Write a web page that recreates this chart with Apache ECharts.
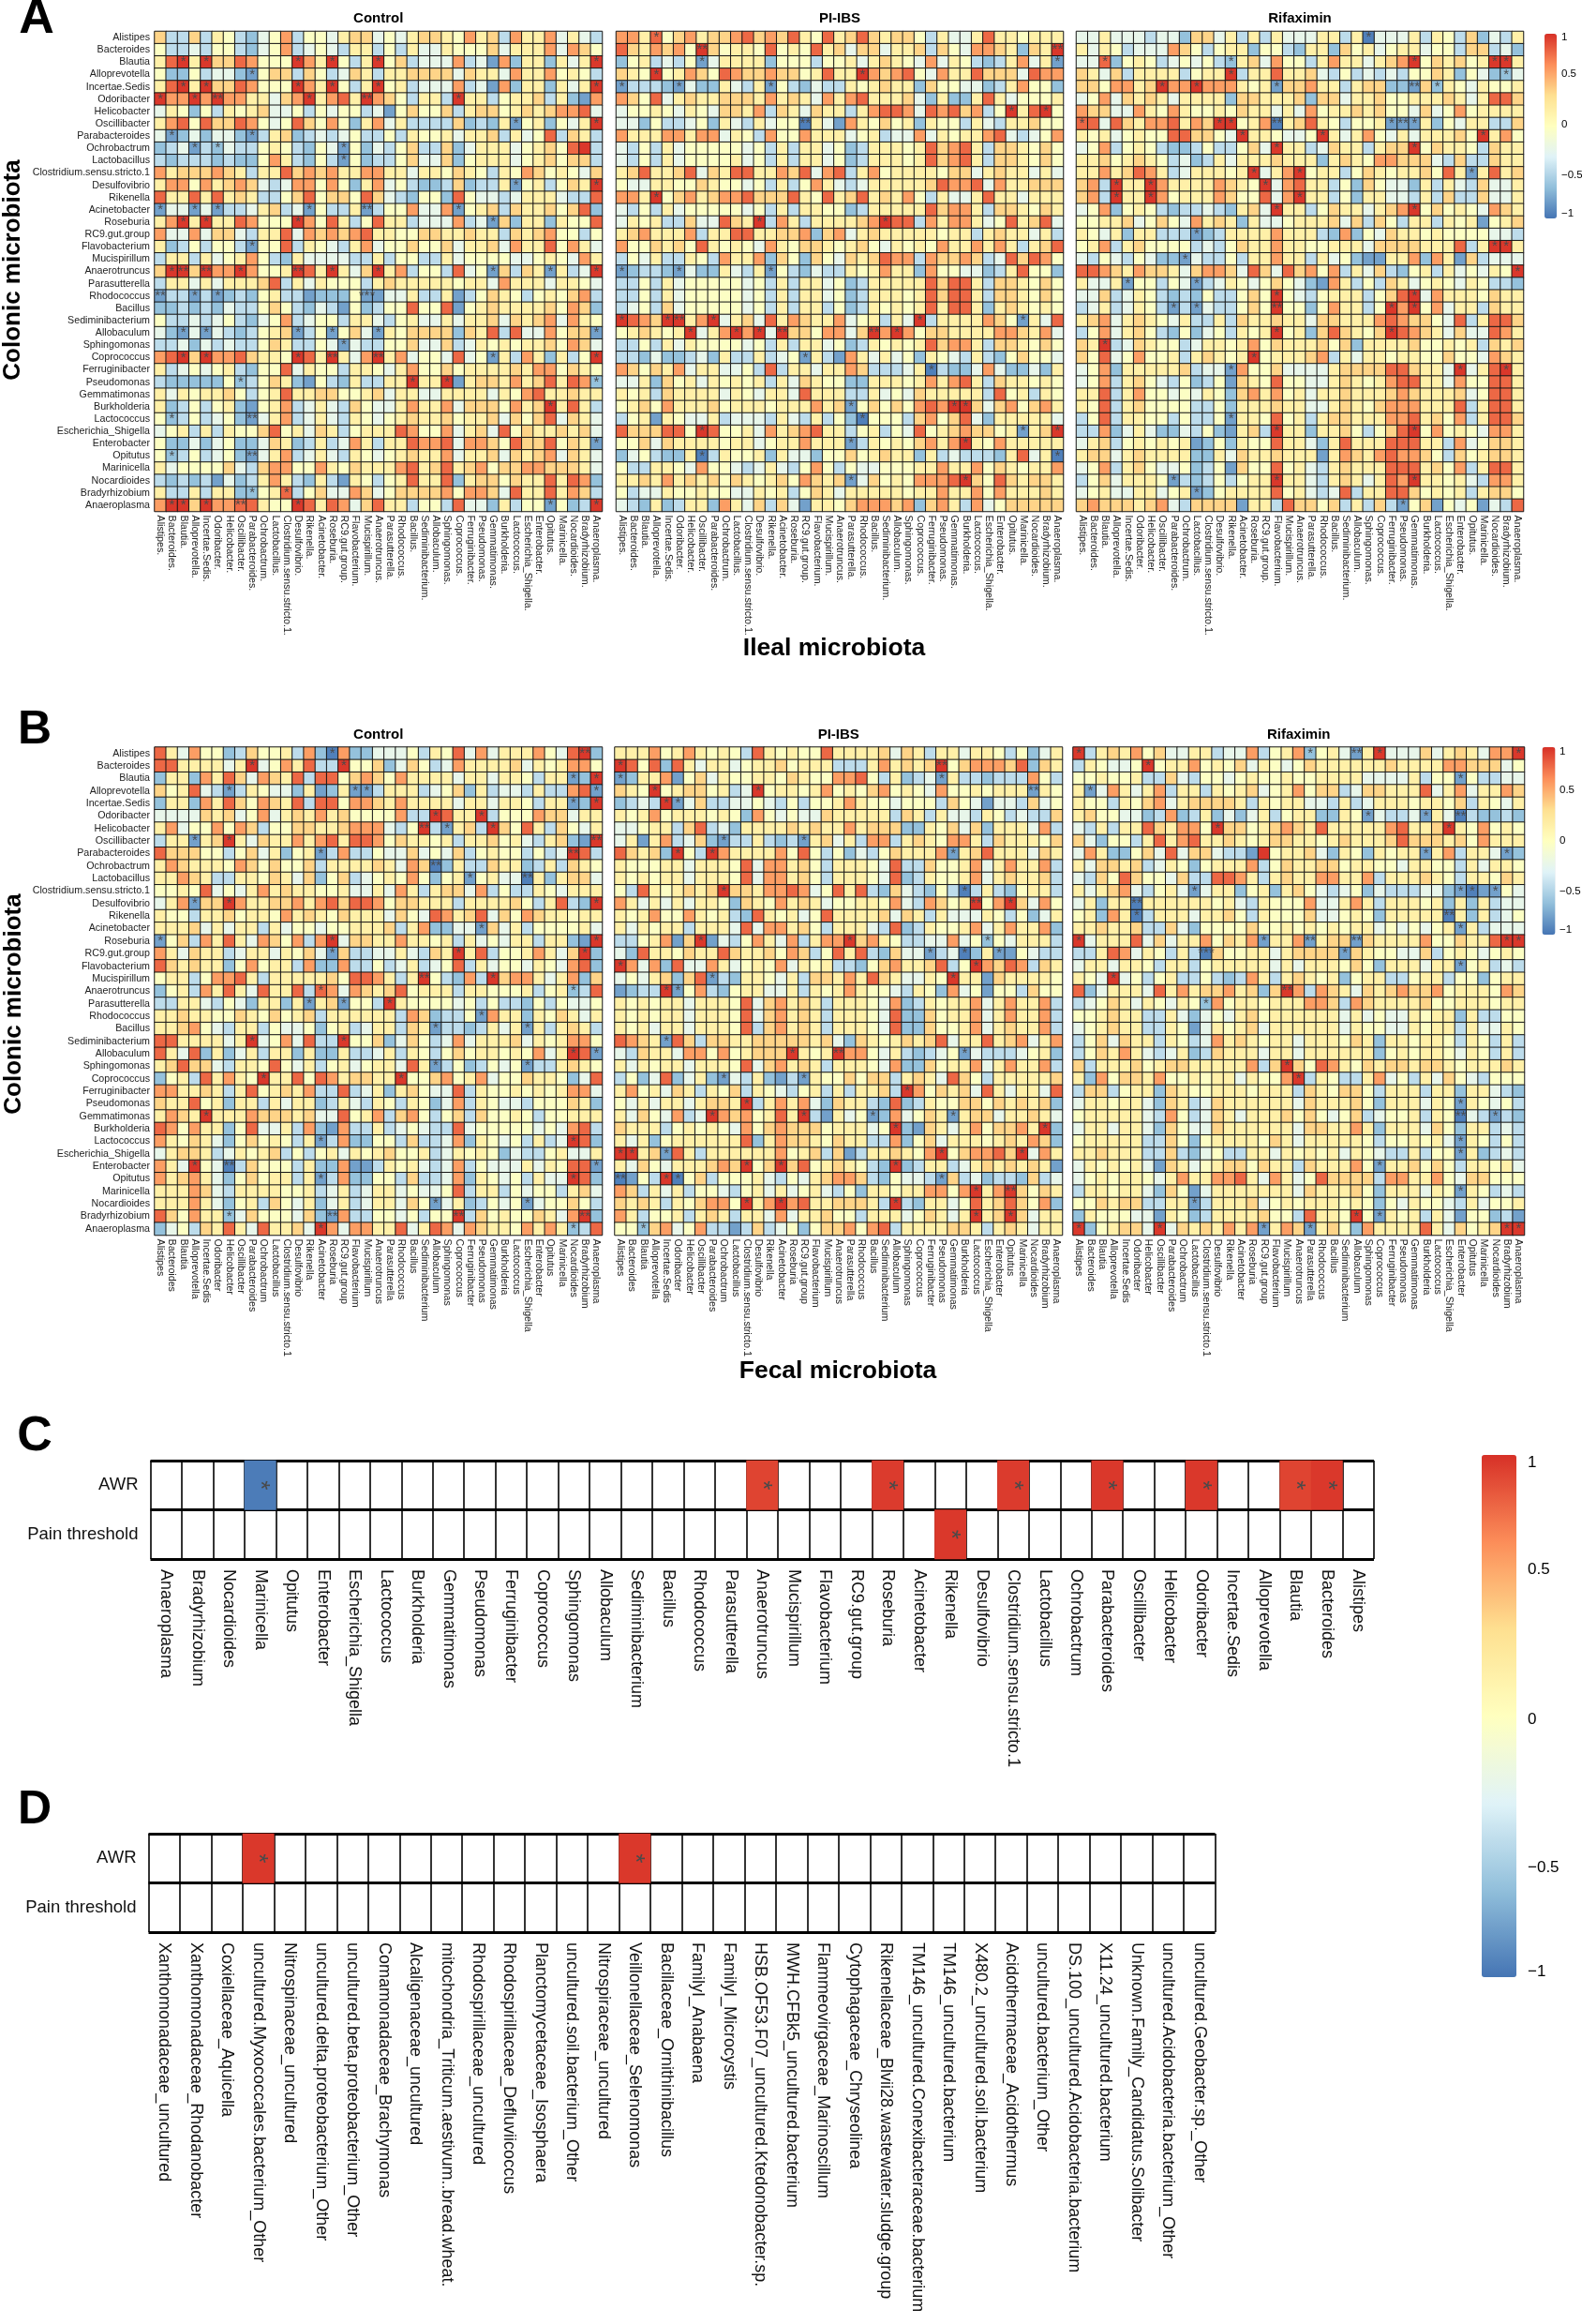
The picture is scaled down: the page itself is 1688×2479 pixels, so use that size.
<!DOCTYPE html>
<html><head><meta charset="utf-8">
<script src="https://cdn.jsdelivr.net/npm/echarts@6/dist/echarts.min.js"></script>
<style>html,body{margin:0;padding:0;background:#fff}#c{width:1688px;height:2479px}</style></head>
<body><div id="c"></div>
<script>
const taxa=["Alistipes","Bacteroides","Blautia","Alloprevotella","Incertae.Sedis","Odoribacter","Helicobacter","Oscillibacter","Parabacteroides","Ochrobactrum","Lactobacillus","Clostridium.sensu.stricto.1","Desulfovibrio","Rikenella","Acinetobacter","Roseburia","RC9.gut.group","Flavobacterium","Mucispirillum","Anaerotruncus","Parasutterella","Rhodococcus","Bacillus","Sediminibacterium","Allobaculum","Sphingomonas","Coprococcus","Ferruginibacter","Pseudomonas","Gemmatimonas","Burkholderia","Lactococcus","Escherichia_Shigella","Enterobacter","Opitutus","Marinicella","Nocardioides","Bradyrhizobium","Anaeroplasma"];
const levelValues={'0':-0.95,'1':-0.8,'2':-0.65,'3':-0.48,'4':-0.25,'5':-0.03,'6':0.16,'7':0.38,'8':0.6,'9':0.8,'X':0.97};
const ilealControl=[
"7337365324 5835546774 5467765867 386684643",
"5334355324 5834543663 5364465557 466684875",
"69X6X77985 55X86X536X 5734448341 82662646X",
"5225344215 7737534763 6677774766 486685653",
"69X6X77985 55X86X536X 5634448341 82662646X",
"X88X8X8866 478X6896X8 753663X663 566736218",
"4652536567 4453545534 1575573677 567678894",
"6895977985 4597585268 4633337232 61562546X",
"4124244213 6723434533 5365564667 364593763",
"2341324335 6532541524 3573372466 6456759X3",
"3233323225 8632531523 3574472566 645675773",
"8677787636 6978786688 6646657653 658756547",
"6885867874 3488585268 4532237233 61563576X",
"9669696763 3579577597 4325529544 346664339",
"1441413346 7341533613 5584481567 376675792",
"68X6X66985 55X8596359 6634448341 726626559",
"8448477436 6948787896 6557766766 376785535",
"6235355315 5936543684 5575574667 486695864",
"3663645685 3264444336 3553364555 544565486",
"7XX7X88X85 56X96X647X 6835539451 73761634X",
"3664646667 9364655536 7666665664 866646654",
"1331312325 6331222511 4463361357 653565783",
"2232324335 7532431523 5595591567 666675872",
"5334345324 5834553664 3564464667 476784865",
"4214143235 6713515741 6577772769 394485771",
"3342434335 7633541433 5574473465 656675874",
"89X7X88976 65X96X648X 6845549451 63862635X",
"6345456325 5946553665 4685575666 676885765",
"3222225235 7621532633 66X66X1677 686796982",
"6465667535 6966775567 4664466664 658966766",
"6235356215 6834643754 4686684777 5867X6963",
"5235345214 6834643654 5676675667 475794764",
"4563636557 9564763566 6985584674 957667674",
"5224245224 7623634863 6698894887 597795761",
"5235345214 6834643654 5676684667 476784764",
"6455557437 8855865766 6896796785 778877764",
"3232314236 8632631653 5696692677 576696982",
"6336366225 6935744874 5777785887 496696873",
"8XX7X88996 55X9698479 6635539442 63551523X"];
const ilealPIIBS=[
"8869578677 8978796596 7976775364 469665666",
"9768785X75 6659565967 4774667375 48876276X",
"2563435146 6662555355 6467654846 532368461",
"765X568759 8778775696 6X87895486 697774988",
"1333214226 4361532433 6567662755 442368552",
"8759467667 7768676486 8966674262 269645556",
"4556546547 7683764766 3689984989 7835X69X5",
"4425334526 4364550641 8657562655 364366755",
"8666886884 6538558666 4563448465 668943458",
"4353645555 5453636645 2366656978 963776575",
"4353645555 6453636645 2366656978 963776575",
"6796679476 9966879489 3685666657 746766464",
"5446655765 5453635864 3466666798 894866777",
"886X578678 8977796596 7967685364 469664666",
"4353645555 5453636655 2366666978 863776576",
"4656337449 76X3863666 678X993868 864596794",
"6786668366 9966778278 4676666656 636766463",
"8557675965 6548657765 6754656586 686863679",
"3546336538 6682752754 7679883877 873497985",
"1233214226 4361532433 6568662855 442369552",
"3353645555 5453636645 2366666979 963776575",
"3353645555 5453636645 2366656979 963776575",
"3453745555 5453636635 2365656969 962676565",
"X987XX68X4 6749687668 456364X366 668751649",
"567656X468 X8X4X77588 47X8X85776 666887684",
"3353646555 5453636645 2365656978 863776575",
"3324223426 3363451631 8646452654 363257554",
"8757684664 4539366466 8733346032 248422426",
"4462756465 6563647655 2266656868 963766565",
"6563766664 6546649666 3364547666 663956365",
"5675866675 6665666867 157575898X X74785786",
"3561654463 4443643635 2055537857 942666664",
"9777995X95 5648678966 3563549567 87756167X",
"5574766665 6645668666 1365657868 X65866666",
"2453226036 5562644255 7567662634 333269460",
"5336654855 4346435853 5445556686 685765668",
"6676867675 7656758767 1475658889 X75976776",
"5344655655 4465635764 6666656686 685866676",
"4326236628 6473741665 7888782786 384577777"];
const ilealRifaximin=[
"4464443442 7746363644 4663604446 365372436",
"6465344487 5356625532 6627564566 455377342",
"4492565345 4532674855 368664678X 576756XX6",
"7647366663 566X366966 7435343435 576254224",
"7758867X88 X888656177 8663677221 726546556",
"4584767646 6662776667 2774667556 667646997",
"8774486586 5565766464 8566767554 745856666",
"9949768896 87XX568067 9653556111 625466337",
"6564565599 7754X66544 5X64685464 66675X685",
"4583565322 3533574X66 347663677X 576653766",
"6675676534 2364666766 6267658877 743733766",
"6686798634 66656X468X 5663576566 759616967",
"783X66X866 668765X489 6635275442 636437446",
"783X66X856 668755948X 6635266443 637337446",
"4582565323 3432674X66 357664678X 575654876",
"5566745754 8676264456 6674737536 636561567",
"6546266333 1236666866 6328254766 565555443",
"5683675555 3435766866 5566647777 666936XX6",
"4354354221 4335366866 3645211668 286173444",
"9987687764 7887497497 8583647325 63645465X",
"6446155354 1346545754 2186353764 565465332",
"4473465323 2533575X54 356663579X 486665766",
"3463465313 1433575X55 2586635X8X 584663766",
"6784676546 3363766766 4776668987 754936997",
"3584675325 2453656X56 2797657X98 764744986",
"76X3476553 4665685766 6757266667 556563767",
"7594585563 67656X5666 7836466566 557554876",
"4582666667 3441855744 4467777997 664X469X6",
"4583675435 2351765955 4467656899 664855996",
"6693685545 4652786856 4667666787 666745996",
"6593675555 3352666766 4467657888 666936996",
"3593665535 3351665956 3677666889 675836997",
"3382464224 3521673X66 266753579X 585654886",
"4673565656 1252655966 4269666999 663845776",
"6774676666 2264766766 6168768988 753756776",
"4583675445 2351755956 4367666999 675836996",
"3574666513 2353566X66 436764698X 665643886",
"4564466456 1256666956 4349366997 565636775",
"7877767843 7777166397 7573637315 715451439"];
const fecalControl=[
"9648552375 5638208224 4453659484 6668549X2",
"99666646X4 586933X557 2475348666 674656885",
"2662869748 7693995787 5866664664 66536612X",
"7569431365 4426126113 6663457263 443633891",
"2662869758 7693995887 6866664664 66536612X",
"4444767458 4676867555 5833X966X3 555877466",
"6845585873 5577667888 435X31673X 759637546",
"366167X647 6686896998 5766563667 56436721X",
"9777553574 6256138335 4474547356 553534X93",
"6876665875 7557366667 6487026337 662363765",
"6687633665 7647257345 6585256156 440626774",
"5565945468 6766556446 4863677483 533654666",
"468177X866 7786897998 5776663666 67536932X",
"6553667566 5867657666 4754986794 758766566",
"6667464663 6455455666 7368224417 463555564",
"1573869648 75838X4776 6866563645 46636621X",
"8647663466 4657417334 464376X693 5568647X2",
"9767662585 6638228335 3463459364 554654892",
"5663588963 6666675998 636X53283X 788646827",
"2563869649 6693984876 7956663665 556356239",
"3366435426 6261671553 X655554535 332535445",
"6676655765 7567366666 6387233518 662657646",
"6678543663 5445256346 6376133236 461636763",
"99666646X4 584933X557 2475348466 674656885",
"9649262463 6626226334 6365357566 565846X91",
"6797743665 9546356456 6496135235 451336765",
"256396865X 6695986776 6X55785684 557665249",
"8866763695 6768339346 2675449365 565656884",
"7669562663 6466236436 5365248365 443555762",
"6876X66687 7767449568 3785357375 565355666",
"9858662594 4638218336 3454339455 555454893",
"8657642575 6536138225 5373348265 453634X92",
"4677634656 7353564656 7556346565 243356446",
"864X540375 5536228113 6564348354 446465991",
"8678642575 6636138225 5373348265 453644X92",
"6668743666 6556346346 6454459366 354553674",
"6668642563 7546246346 6475146235 451455753",
"9758662475 5547218335 545355X375 6557648X2",
"2453769649 6674X84886 6946984876 658686239"];
const fecalPIIBS=[
"6668568656 5396565596 6667476366 466535246",
"X959296466 4566756663 33686767X5 788879276",
"1266815746 5566576558 8953623416 332333853",
"765X567756 34X5665685 6578565485 565666165",
"2343X14733 4454353556 8655455537 541443745",
"6568566656 5285454476 6666376364 436534337",
"4456637934 2666676766 8677722657 472666483",
"4616834721 3363231674 6388367658 863766657",
"97672X53X8 6666859535 2435766681 679666476",
"6555664666 5948867536 6654933755 684686683",
"6565664666 5948867536 6654923655 684676673",
"539656767X 7768898459 6932743253 036325663",
"8646464665 2765867645 5665843875 6X58X7485",
"6568558656 3296564596 6667476364 446535246",
"6465663666 4948867536 6643923655 684686682",
"3356817X14 3586483688 X786533448 452546663",
"4296657669 7667587359 6932744134 026115433",
"X848294486 4565846563 3257866793 5X8798376",
"4546727913 2665463776 869764465X 661766665",
"1233X15832 5664463656 8655436528 451553755",
"6565664666 5947867636 6654823656 684686683",
"6565664666 5947867636 6654922756 684686683",
"6564664666 5937867636 6654922755 684676683",
"9876197377 6677777674 2765676794 669678468",
"4376648858 56777X656X 8854632345 143334562",
"6465664666 5947867636 6654822756 684686683",
"3524924621 4362131655 7577367649 753666667",
"6856476365 7365435636 36673X8576 749646649",
"5464664677 6X36868427 6632923655 775767672",
"64754834X8 785696X316 4512845761 677466764",
"7666356565 4857877756 6645X21764 6857786X2",
"6462566666 6926877657 6633825746 665676872",
"XX67196366 6666856737 13667658X5 78897X486",
"6475466678 7X57X79567 6532X23663 467676761",
"0153X05735 5564354678 8732544317 342332734",
"8736463554 3564645643 5266566885 8X68X7576",
"7676365788 5X68X89667 7763X32664 596797582",
"8635563676 3664846675 5366645764 6X67X7466",
"5527845833 1373452577 8589366667 763676466"];
const fecalRifaximin=[
"X367685744 6634483568 256416X444 74676488X",
"365445X566 8565746545 7666666766 668877745",
"5565563374 3554565565 5666644446 355153344",
"6148646836 6365674568 5773477666 946846687",
"6553657846 7777636566 4436346665 665736546",
"6755442382 3624246356 6226514334 164032232",
"4363669768 85X7756787 6966666896 67X658565",
"7425536968 9667656776 6567666797 776758666",
"4862257494 774331X566 7426526566 168366412",
"6477673465 2566683576 6775665546 655364665",
"4375975547 3399863676 6886683666 765366576",
"6467843564 1466256267 5434524333 442101154",
"4626606666 6656436555 8446863666 562626344",
"5628603666 4667536555 7445652666 660626345",
"6676673374 2555575565 6565664545 456163444",
"X466694746 6857681668 1677176666 8557669XX",
"3369846536 3075566467 7771765544 735654565",
"4664665366 3566666464 6665752666 466156343",
"654X453563 3532386367 6562566335 663552566",
"9246664968 67786727X8 3876476787 785666587",
"3457646546 5285665666 8873876666 755666566",
"5567663364 2454675666 6664645446 566263355",
"4567663365 1465674666 6664655446 566364465",
"3574766365 3486765664 6665762665 665365363",
"3576864346 2376664664 6666662565 665465363",
"7366675677 66666837X7 5986576776 776566676",
"6285776855 656646558X 3653368453 647543555",
"3773566276 5566656663 7657753666 366266432",
"4665664276 3476666664 7666752666 465165453",
"5666664385 3476466675 7545734556 365043132",
"4664664275 4476666664 7766862666 475266343",
"5666663375 2566665764 6666653556 564165353",
"6676663373 2453366465 6564654336 355162343",
"4656564176 4567757663 7666851667 575366564",
"4565665468 6688964864 5977773886 685477555",
"3665664275 1466666664 7666752666 465165343",
"5576773366 1366674565 6665652546 554364556",
"2655544165 2366667553 9665X51656 364155231",
"X256774X47 6768681687 1675286666 9647567XX"];
// significance: "row:col col xN" (N stars, default one)
const sigIlealControl=["3:3 5 13 16 20 39","4:9","5:3 5 13 16 20 39","6:1 4 6x2 14 19x2 27","8:32 39","9:2 9","10:4 6 17","11:17","13:32 39","15:1 4 6 14 19x2 27","16:3 5 13 30","18:9","20:2 3x2 5x2 8 13x2 16 20 30 35 39","22:1x2 4 6 19x3","25:3 5 13 16 20 39","26:17","27:3 5 13 16x2 20x2 30 39","29:8 23 26 39","31:35","32:2 9x2","34:39","35:2 9x2","38:9 12","39:2 3 5 8x2 13 35 39"];
const sigIlealPIIBS=["1:4","2:8x2 39x2","3:8 39","4:4 22","5:1 6 14","7:35 38","8:17x2","14:4","16:13 24","20:1 6 14","24:1 5 6x2 9 27 36","25:7 11 13 15x2 23x2 25","27:17","28:28","31:21 30 31","32:22","33:8 36 39","34:21 31","35:8 39","37:21 31"];
const sigIlealRifaximin=["1:26","3:3 14 30 37 38","4:14 38","5:8 11 18 30x2 32","8:1 13 14 18x2 28 29x2 30","9:15 22 36","10:18 30","12:16 20 35","13:4 7 17","14:4 7 20","15:18 30","17:11","18:37 38","19:10","20:39","21:5 11","22:18 30","23:9 11 18x2 28 30","25:18 28","26:3","27:16","28:14 34 38","32:14","33:18 30","37:9 18 30","38:11","39:29"];
const sigFecalControl=["1:16 38x2","2:9 17","3:37 39","4:7 18 19 39","5:37 39","6:25 29","7:24x2 26 30","8:4 7 39x2","9:15 37x2","10:25x2","11:28 33x2","13:4 7 39","15:29","16:1 16 39","17:16 27 38","19:24x2 30","20:15 37","21:14 17 21","22:29","23:25 33","24:9 17","25:37 39","26:25 33","27:10 22","30:5","32:15 37","34:4 7x2 39","35:15 37","37:25 33","38:7 16x2 27x2 38x2","39:15 37"];
const sigFecalPIIBS=["2:1 29x2","3:1 29","4:4 13 37x2","5:5 6","8:10 17","9:6 9 30","12:10 31","13:32x2 35","16:8 21 33","17:28 31 34","18:1 32","19:9 30","20:5 6","24:5","25:16 20x2 31","27:10 17","28:26","29:12","30:9 17 23 30","31:25 38","33:1 2 5 29 36","34:12 15 25","35:1x2 5 6 29","36:32 35x2","37:12 15 25","38:32 35","39:3"];
const sigFecalRifaximin=["1:1 21 25x2 27 39","2:7","3:34","4:2","6:26 31 34x2","7:13 33","9:31 38","12:11 34 35 37","13:6x2","14:6 33x2","15:34","16:1 17 21x2 25x2 38 39","17:12x3 24","18:34","19:4","20:19x2","21:12","26:19","27:20","29:34","30:34x2 37","32:34","33:34","34:27","36:34","37:11","38:25 27","39:1 8 17 21 38 39"];

const cColumns=["Anaeroplasma","Bradyrhizobium","Nocardioides","Marinicella","Opitutus","Enterobacter","Escherichia_Shigella","Lactococcus","Burkholderia","Gemmatimonas","Pseudomonas","Ferruginibacter","Coprococcus","Sphingomonas","Allobaculum","Sediminibacterium","Bacillus","Rhodococcus","Parasutterella","Anaerotruncus","Mucispirillum","Flavobacterium","RC9.gut.group","Roseburia","Acinetobacter","Rikenella","Desulfovibrio","Clostridium.sensu.stricto.1","Lactobacillus","Ochrobactrum","Parabacteroides","Oscillibacter","Helicobacter","Odoribacter","Incertae.Sedis","Alloprevotella","Blautia","Bacteroides","Alistipes"];
const traitRows=["AWR","Pain threshold"];
// only significant correlations are coloured: [trait, column name, r]
const cSignificant=[["AWR","Marinicella",-0.97],["AWR","Anaerotruncus",0.93],["AWR","Roseburia",0.96],["AWR","Clostridium.sensu.stricto.1",0.96],["AWR","Parabacteroides",0.97],["AWR","Odoribacter",0.97],["AWR","Blautia",0.93],["AWR","Bacteroides",0.97],["Pain threshold","Rikenella",0.97]];
const dColumns=["Xanthomonadaceae_uncultured","Xanthomonadaceae_Rhodanobacter","Coxiellaceae_Aquicella","uncultured.Myxococcales.bacterium_Other","Nitrospinaceae_uncultured","uncultured.delta.proteobacterium_Other","uncultured.beta.proteobacterium_Other","Comamonadaceae_Brachymonas","Alcaligenaceae_uncultured","mitochondria_Triticum.aestivum..bread.wheat.","Rhodospirillaceae_uncultured","Rhodospirillaceae_Defluviicoccus","Planctomycetaceae_Isosphaera","uncultured.soil.bacterium_Other","Nitrospiraceae_uncultured","Veillonellaceae_Selenomonas","Bacillaceae_Ornithinibacillus","FamilyI_Anabaena","FamilyI_Microcystis","HSB.OF53.F07_uncultured.Ktedonobacter.sp.","MWH.CFBk5_uncultured.bacterium","Flammeovirgaceae_Marinoscillum","Cytophagaceae_Chryseolinea","Rikenellaceae_Blvii28.wastewater.sludge.group","TM146_uncultured.Conexibacteraceae.bacterium","TM146_uncultured.bacterium","X480.2_uncultured.soil.bacterium","Acidothermaceae_Acidothermus","uncultured.bacterium_Other","DS.100_uncultured.Acidobacteria.bacterium","X11.24_uncultured.bacterium","Unknown.Family_Candidatus.Solibacter","uncultured.Acidobacteria.bacterium_Other","uncultured.Geobacter.sp._Other"];
const dSignificant=[["AWR","uncultured.Myxococcales.bacterium_Other",0.97],["AWR","Veillonellaceae_Selenomonas",0.97]];
const colorbarTicks=["1","0.5","0","\u22120.5","\u22121"];
const ramp=['#4575B4','#91BFDB','#E0F3F8','#FFFFBF','#FEE090','#FC8D59','#D73027'];

const FONT='"Liberation Sans",Arial,sans-serif';
const panels=[
 {rows:ilealControl,sig:sigIlealControl,l:165,r:642.5,t:33.5,b:545.5,title:'Control',rowLab:true,dot:true},
 {rows:ilealPIIBS,sig:sigIlealPIIBS,l:657.5,r:1134.5,t:33.5,b:545.5,title:'PI-IBS',dot:true},
 {rows:ilealRifaximin,sig:sigIlealRifaximin,l:1148.5,r:1625.5,t:33.5,b:545.5,title:'Rifaximin',dot:true},
 {rows:fecalControl,sig:sigFecalControl,l:165,r:642.5,t:797,b:1317.5,title:'Control',rowLab:true},
 {rows:fecalPIIBS,sig:sigFecalPIIBS,l:656,r:1133.5,t:797,b:1317.5,title:'PI-IBS'},
 {rows:fecalRifaximin,sig:sigFecalRifaximin,l:1145,r:1626.5,t:797,b:1317.5,title:'Rifaximin'}
];
function starsOf(list){const m={};list.forEach(s=>{const [r,cs]=s.split(':');cs.split(' ').forEach(c=>{const [k,n]=c.split('x');m[(r-1)+'_'+(k-1)]=+(n||1);});});return m;}

const grid=[],xAxis=[],yAxis=[],series=[],graphic=[];
function text(t,x,y,font,align,extra){graphic.push(Object.assign({type:'text',x,y,silent:true,style:{text:t,font,fill:'#000',textAlign:align||'center',textVerticalAlign:'middle'}},extra||{}));}
const starLabel=(size,rot)=>({show:true,position:'inside',color:'#4a4a4a',fontSize:size,fontFamily:FONT,rotate:rot||0,formatter:p=>p.value[3]?'*'.repeat(p.value[3]):''});

panels.forEach((p,i)=>{
  const st=starsOf(p.sig),data=[];
  p.rows.forEach((row,r)=>{const s=row.replace(/\s/g,'');if(s.length!==39)throw new Error('panel '+i+' row '+(r+1)+' len '+s.length);
    [...s].forEach((ch,c)=>data.push([c,r,levelValues[ch],st[r+'_'+c]||0]));});
  grid.push({left:p.l,top:p.t,width:p.r-p.l,height:p.b-p.t});
  xAxis.push({type:'category',gridIndex:i,data:p.dot?taxa.map(n=>n+'.'):taxa,axisLine:{show:false},axisTick:{show:false},splitLine:{show:false},
    axisLabel:{interval:0,rotate:-90,fontSize:10.7,fontFamily:FONT,color:'#222',margin:4}});
  yAxis.push({type:'category',gridIndex:i,data:taxa,inverse:true,axisLine:{show:false},axisTick:{show:false},splitLine:{show:false},
    axisLabel:{show:!!p.rowLab,interval:0,fontSize:10.7,fontFamily:FONT,color:'#222',margin:5}});
  series.push({type:'heatmap',xAxisIndex:i,yAxisIndex:i,data,encode:{x:0,y:1},progressive:0,animation:false,silent:true,
    itemStyle:{borderColor:'#151515',borderWidth:1},label:starLabel(15),emphasis:{disabled:true}});
  text(p.title,(p.l+p.r)/2,p.t-13.5,'bold 15px '+FONT);
});

function traitPanel(cols,sigs,l,r,t,b,idx){
  grid.push({left:l,top:t,width:r-l,height:b-t,show:false});
  xAxis.push({type:'category',gridIndex:idx,data:cols,axisLine:{show:false},axisTick:{show:false},
    splitLine:{show:true,lineStyle:{color:'#000',width:1.6}},
    axisLabel:{interval:0,rotate:-90,fontSize:18,fontFamily:FONT,color:'#111',margin:11}});
  yAxis.push({type:'category',gridIndex:idx,data:traitRows,inverse:true,axisLine:{show:false},axisTick:{show:false},
    splitLine:{show:true,lineStyle:{color:'#000',width:3}},
    axisLabel:{interval:0,fontSize:18.5,fontFamily:FONT,color:'#111',margin:13}});
  series.push({type:'heatmap',xAxisIndex:idx,yAxisIndex:idx,animation:false,silent:true,progressive:0,
    data:sigs.map(s=>[cols.indexOf(s[1]),traitRows.indexOf(s[0]),s[2],1]),label:starLabel(26,-90),emphasis:{disabled:true}});
}
traitPanel(cColumns,cSignificant,160.5,1466,1558,1663,6);
traitPanel(dColumns,dSignificant,158.5,1296.5,1956,2061,7);

const vm=(idx,left,top,w,h)=>({type:'continuous',min:-1,max:1,dimension:2,seriesIndex:idx,left,top,itemWidth:w,itemHeight:h,padding:0,
  calculable:false,hoverLink:false,inRange:{color:ramp},text:['',''],textGap:0,showLabel:false});
const visualMap=[vm([0,1,2],1648,36,13,197),vm([3,4,5],1645.5,797,14,200),vm([6,7],1581,1552,37,557)];

colorbarTicks.forEach((t,i)=>{
  text(t,1666,[40,79,133,187,228][i],'11.5px '+FONT,'left');
  text(t,1664,[802,843,897,951,992][i],'11.5px '+FONT,'left');
  text(t,1630,[1560,1674,1834,1992,2103][i],'17px '+FONT,'left');
});
const big='bold 26.5px '+FONT;
text('Colonic microbiota',14,288,'bold 26px '+FONT,'center',{rotation:Math.PI/2});
text('Colonic microbiota',15,1071,'bold 26px '+FONT,'center',{rotation:Math.PI/2});
text('Ileal microbiota',890,692,big);
text('Fecal microbiota',894,1463,big);
text('A',39,21,'bold 52px '+FONT);
text('B',37,779,'bold 50px '+FONT);
text('C',37,1533,'bold 52px '+FONT);
text('D',37,1931,'bold 50px '+FONT);

const chart=echarts.init(document.getElementById('c'),null,{renderer:'canvas',width:1688,height:2479});
chart.setOption({animation:false,backgroundColor:'#fff',grid,xAxis,yAxis,visualMap,series,graphic});
</script>
</body></html>
